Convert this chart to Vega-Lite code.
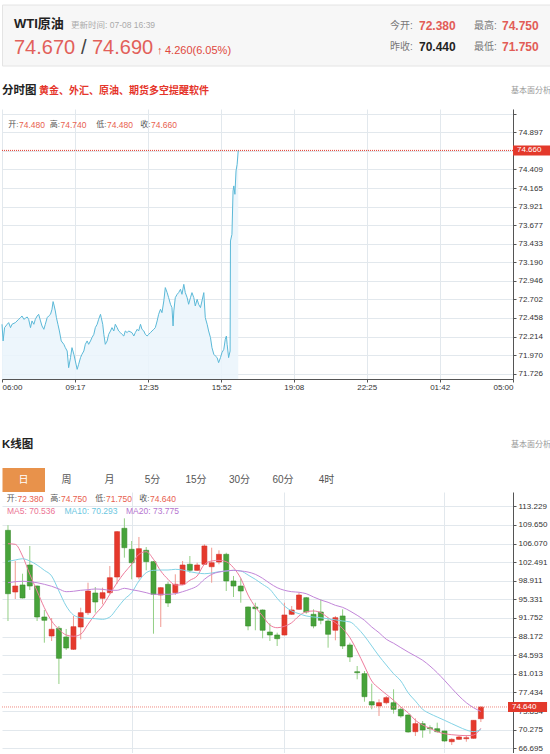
{
  "$schema": "https://vega.github.io/schema/vega-lite/v6.json",
  "padding": 0,
  "spacing": 0,
  "bounds": "flush",
  "background": "white",
  "config": {
    "view": {"stroke": null},
    "font": "Liberation Sans, Noto Sans CJK SC",
    "axis": {"labelFontSize": 8, "labelColor": "#333", "domainColor": "#555", "tickColor": "#555", "gridColor": "#e2e8ed", "tickSize": 3, "labelPadding": 2, "labelOverlap": false}
  },
  "vconcat": [
    {
      "width": 550,
      "height": 108,
      "data": {"values": [{}]},
      "layer": [
        {"mark": {"type": "rect", "x": 0.5, "x2": 560, "y": 4, "y2": 65, "fill": "#f7f7f7", "stroke": "#e4e4e4", "strokeWidth": 1}, "encoding": {}},
        {"mark": {"type": "text", "text": "WTI原油", "x": 12, "y": 23, "align": "left", "baseline": "middle", "fontSize": 13, "fontWeight": "bold", "color": "#222"}, "encoding": {}},
        {"mark": {"type": "text", "text": "更新时间: 07-08 16:39", "x": 69, "y": 24, "align": "left", "baseline": "middle", "fontSize": 8.5, "color": "#aaa"}, "encoding": {}},
        {"mark": {"type": "text", "text": "74.670", "x": 12, "y": 46.5, "align": "left", "baseline": "middle", "fontSize": 20, "color": "#e2605a"}, "encoding": {}},
        {"mark": {"type": "text", "text": "/", "x": 79, "y": 46.5, "align": "left", "baseline": "middle", "fontSize": 20, "color": "#444"}, "encoding": {}},
        {"mark": {"type": "text", "text": "74.690", "x": 90, "y": 46.5, "align": "left", "baseline": "middle", "fontSize": 20, "color": "#e2605a"}, "encoding": {}},
        {"mark": {"type": "text", "text": "↑", "x": 155, "y": 50, "align": "left", "baseline": "middle", "fontSize": 11, "fontWeight": "bold", "color": "#e0483d"}, "encoding": {}},
        {"mark": {"type": "text", "text": "4.260(6.05%)", "x": 163, "y": 50, "align": "left", "baseline": "middle", "fontSize": 11, "color": "#e0483d"}, "encoding": {}},
        {"mark": {"type": "text", "text": "今开:", "x": 388, "y": 25, "align": "left", "baseline": "middle", "fontSize": 10, "color": "#777"}, "encoding": {}},
        {"mark": {"type": "text", "text": "72.380", "x": 417, "y": 25, "align": "left", "baseline": "middle", "fontSize": 12, "fontWeight": "bold", "color": "#e25c56"}, "encoding": {}},
        {"mark": {"type": "text", "text": "最高:", "x": 472, "y": 25, "align": "left", "baseline": "middle", "fontSize": 10, "color": "#777"}, "encoding": {}},
        {"mark": {"type": "text", "text": "74.750", "x": 500, "y": 25, "align": "left", "baseline": "middle", "fontSize": 12, "fontWeight": "bold", "color": "#e25c56"}, "encoding": {}},
        {"mark": {"type": "text", "text": "昨收:", "x": 388, "y": 46, "align": "left", "baseline": "middle", "fontSize": 10, "color": "#777"}, "encoding": {}},
        {"mark": {"type": "text", "text": "70.440", "x": 417, "y": 46, "align": "left", "baseline": "middle", "fontSize": 12, "fontWeight": "bold", "color": "#222"}, "encoding": {}},
        {"mark": {"type": "text", "text": "最低:", "x": 472, "y": 46, "align": "left", "baseline": "middle", "fontSize": 10, "color": "#777"}, "encoding": {}},
        {"mark": {"type": "text", "text": "71.750", "x": 500, "y": 46, "align": "left", "baseline": "middle", "fontSize": 12, "fontWeight": "bold", "color": "#e25c56"}, "encoding": {}},
        {"mark": {"type": "text", "text": "分时图", "x": 0, "y": 89.5, "align": "left", "baseline": "middle", "fontSize": 11.5, "fontWeight": "bold", "color": "#222"}, "encoding": {}},
        {"mark": {"type": "text", "text": "黄金、外汇、原油、期货多空提醒软件", "x": 37, "y": 89.5, "align": "left", "baseline": "middle", "fontSize": 10, "fontWeight": "bold", "color": "#e5352b"}, "encoding": {}},
        {"mark": {"type": "text", "text": "基本面分析", "x": 509, "y": 90, "align": "left", "baseline": "middle", "fontSize": 8, "color": "#999"}, "encoding": {}},
        {"mark": {"type": "rule", "x": 0.5, "x2": 560, "y": 103.5, "y2": 103.5, "color": "#dddddd"}, "encoding": {}}
      ]
    },
    {
      "width": 511,
      "height": 270,
      "data": {"values": [
        {"t":0,"v":72.375},{"t":3,"v":72.156},{"t":7,"v":72.331},{"t":14,"v":72.375},{"t":18,"v":72.397},{"t":23,"v":72.331},{"t":27,"v":72.375},{"t":36,"v":72.397},{"t":45,"v":72.44},{"t":50,"v":72.462},{"t":54,"v":72.484},{"t":59,"v":72.44},{"t":63,"v":72.454},{"t":68,"v":72.471},{"t":72,"v":72.44},{"t":77,"v":72.331},{"t":81,"v":72.419},{"t":86,"v":72.375},{"t":90,"v":72.44},{"t":95,"v":72.484},{"t":99,"v":72.506},{"t":104,"v":72.419},{"t":108,"v":72.353},{"t":113,"v":72.309},{"t":117,"v":72.375},{"t":122,"v":72.462},{"t":126,"v":72.484},{"t":131,"v":72.506},{"t":135,"v":72.572},{"t":138,"v":72.673},{"t":141,"v":72.616},{"t":144,"v":72.55},{"t":147,"v":72.462},{"t":151,"v":72.375},{"t":155,"v":72.287},{"t":160,"v":72.156},{"t":167,"v":72.112},{"t":171,"v":72.068},{"t":176,"v":72.024},{"t":180,"v":71.805},{"t":185,"v":71.937},{"t":189,"v":72.068},{"t":194,"v":71.981},{"t":198,"v":71.893},{"t":203,"v":71.783},{"t":207,"v":71.849},{"t":212,"v":71.937},{"t":216,"v":71.981},{"t":221,"v":72.024},{"t":225,"v":72.112},{"t":230,"v":72.156},{"t":234,"v":72.112},{"t":239,"v":72.156},{"t":243,"v":72.2},{"t":248,"v":72.243},{"t":252,"v":72.331},{"t":257,"v":72.375},{"t":261,"v":72.44},{"t":266,"v":72.506},{"t":268,"v":72.462},{"t":272,"v":72.375},{"t":275,"v":72.243},{"t":279,"v":72.112},{"t":284,"v":72.156},{"t":288,"v":72.243},{"t":293,"v":72.287},{"t":297,"v":72.331},{"t":302,"v":72.287},{"t":306,"v":72.375},{"t":311,"v":72.331},{"t":315,"v":72.287},{"t":320,"v":72.265},{"t":324,"v":72.243},{"t":329,"v":72.221},{"t":333,"v":72.287},{"t":338,"v":72.265},{"t":342,"v":72.287},{"t":351,"v":72.265},{"t":356,"v":72.221},{"t":360,"v":72.265},{"t":365,"v":72.309},{"t":369,"v":72.287},{"t":374,"v":72.375},{"t":378,"v":72.309},{"t":383,"v":72.287},{"t":387,"v":72.243},{"t":392,"v":72.221},{"t":396,"v":72.243},{"t":401,"v":72.265},{"t":405,"v":72.287},{"t":410,"v":72.309},{"t":414,"v":72.331},{"t":419,"v":72.419},{"t":423,"v":72.506},{"t":428,"v":72.572},{"t":432,"v":72.528},{"t":437,"v":72.681},{"t":441,"v":72.857},{"t":446,"v":72.791},{"t":450,"v":72.725},{"t":455,"v":72.638},{"t":459,"v":72.594},{"t":462,"v":72.353},{"t":464,"v":72.55},{"t":468,"v":72.725},{"t":473,"v":72.769},{"t":477,"v":72.791},{"t":482,"v":72.835},{"t":486,"v":72.769},{"t":491,"v":72.9},{"t":495,"v":72.791},{"t":500,"v":72.725},{"t":504,"v":72.638},{"t":509,"v":72.725},{"t":513,"v":72.791},{"t":518,"v":72.725},{"t":522,"v":72.616},{"t":527,"v":72.703},{"t":531,"v":72.638},{"t":536,"v":72.594},{"t":540,"v":72.681},{"t":545,"v":72.791},{"t":549,"v":72.462},{"t":554,"v":72.375},{"t":558,"v":72.287},{"t":563,"v":72.2},{"t":567,"v":72.068},{"t":572,"v":71.981},{"t":576,"v":71.959},{"t":581,"v":71.937},{"t":585,"v":71.871},{"t":590,"v":71.937},{"t":594,"v":72.002},{"t":599,"v":72.046},{"t":603,"v":72.178},{"t":606,"v":72.221},{"t":608,"v":72.112},{"t":612,"v":71.937},{"t":616,"v":72.024},{"t":617,"v":73.47},{"t":621,"v":73.557},{"t":624,"v":74.127},{"t":626,"v":74.193},{"t":629,"v":74.083},{"t":632,"v":74.39},{"t":635,"v":74.477},{"t":638,"v":74.66}
      ]},
      "layer": [
        {
          "mark": {"type": "area", "color": "#eaf5fb", "opacity": 0.85},
          "encoding": {
            "x": {"field": "t", "type": "quantitative", "scale": {"domain": [0, 1380], "nice": false, "zero": false},
                  "axis": {"values": [0, 197, 395, 592, 788, 985, 1182, 1380], "tickCount": 50, "labelExpr": "timeFormat(datetime(2025,6,8,6,datum.value),'%H:%M')", "labelFlush": true, "grid": true, "title": null, "labelPadding": 1}},
            "y": {"field": "v", "type": "quantitative", "scale": {"domain": [71.656, 75.204], "nice": false, "zero": false},
                  "axis": {"orient": "right", "values": [71.726, 71.97, 72.214, 72.458, 72.702, 72.946, 73.19, 73.433, 73.677, 73.921, 74.165, 74.409, 74.653, 74.897, 75.141], "tickCount": 50, "labelExpr": "datum.value > 75 || abs(datum.value - 74.653) < 0.001 ? '' : format(datum.value, '.3f')", "grid": true, "title": null}},
            "y2": {"datum": 71.656}
          }
        },
        {
          "mark": {"type": "line", "color": "#5bb9d8", "strokeWidth": 1},
          "encoding": {"x": {"field": "t", "type": "quantitative"}, "y": {"field": "v", "type": "quantitative"}}
        },
        {"data": {"values": [{}]}, "mark": {"type": "rule", "color": "#e0392b", "strokeDash": [1, 1], "strokeWidth": 1}, "encoding": {"y": {"datum": 74.66}}},
        {"data": {"values": [{}]}, "mark": {"type": "rule", "color": "#e3392b", "strokeWidth": 10}, "encoding": {"x": {"datum": 1380}, "x2": {"datum": 1484}, "y": {"datum": 74.66}}},
        {"data": {"values": [{}]}, "mark": {"type": "text", "text": "74.660", "align": "left", "dx": 4, "baseline": "middle", "fontSize": 8, "color": "white"}, "encoding": {"x": {"datum": 1380}, "y": {"datum": 74.66}}},
        {"data": {"values": [{}]}, "mark": {"type": "text", "text": "开:", "x": 16.5, "y": 15.5, "align": "right", "baseline": "middle", "fontSize": 8, "color": "#555"}, "encoding": {}},
        {"data": {"values": [{}]}, "mark": {"type": "text", "text": "74.480", "x": 17, "y": 15.5, "align": "left", "baseline": "middle", "fontSize": 8.5, "color": "#e8604f"}, "encoding": {}},
        {"data": {"values": [{}]}, "mark": {"type": "text", "text": "高:", "x": 58, "y": 15.5, "align": "right", "baseline": "middle", "fontSize": 8, "color": "#555"}, "encoding": {}},
        {"data": {"values": [{}]}, "mark": {"type": "text", "text": "74.740", "x": 58.5, "y": 15.5, "align": "left", "baseline": "middle", "fontSize": 8.5, "color": "#e8604f"}, "encoding": {}},
        {"data": {"values": [{}]}, "mark": {"type": "text", "text": "低:", "x": 104.5, "y": 15.5, "align": "right", "baseline": "middle", "fontSize": 8, "color": "#555"}, "encoding": {}},
        {"data": {"values": [{}]}, "mark": {"type": "text", "text": "74.480", "x": 105, "y": 15.5, "align": "left", "baseline": "middle", "fontSize": 8.5, "color": "#e8604f"}, "encoding": {}},
        {"data": {"values": [{}]}, "mark": {"type": "text", "text": "收:", "x": 148.5, "y": 15.5, "align": "right", "baseline": "middle", "fontSize": 8, "color": "#555"}, "encoding": {}},
        {"data": {"values": [{}]}, "mark": {"type": "text", "text": "74.660", "x": 149, "y": 15.5, "align": "left", "baseline": "middle", "fontSize": 8.5, "color": "#e8604f"}, "encoding": {}}
      ]
    },
    {
      "width": 550,
      "height": 113,
      "data": {"values": [{}]},
      "layer": [
        {"mark": {"type": "text", "text": "K线图", "x": 0, "y": 66, "align": "left", "baseline": "middle", "fontSize": 11.5, "fontWeight": "bold", "color": "#222"}, "encoding": {}},
        {"mark": {"type": "text", "text": "基本面分析", "x": 509, "y": 65.5, "align": "left", "baseline": "middle", "fontSize": 8, "color": "#999"}, "encoding": {}},
        {"mark": {"type": "rule", "x": 0.5, "x2": 560, "y": 79.5, "y2": 79.5, "color": "#dddddd"}, "encoding": {}},
        {"mark": {"type": "rect", "x": 0.5, "x2": 43, "y": 89, "y2": 113, "fill": "#e8924b"}, "encoding": {}},
        {"mark": {"type": "rule", "x": 0.5, "x2": 346, "y": 89, "y2": 89, "color": "#dddddd"}, "encoding": {}},
        {"mark": {"type": "rule", "x": 0.5, "x2": 346, "y": 112.5, "y2": 112.5, "color": "#dddddd"}, "encoding": {}},
        {"mark": {"type": "rule", "x": 43, "x2": 43, "y": 89, "y2": 113, "color": "#dddddd"}, "encoding": {}},
        {"mark": {"type": "rule", "x": 86, "x2": 86, "y": 89, "y2": 113, "color": "#dddddd"}, "encoding": {}},
        {"mark": {"type": "rule", "x": 129, "x2": 129, "y": 89, "y2": 113, "color": "#dddddd"}, "encoding": {}},
        {"mark": {"type": "rule", "x": 172, "x2": 172, "y": 89, "y2": 113, "color": "#dddddd"}, "encoding": {}},
        {"mark": {"type": "rule", "x": 216, "x2": 216, "y": 89, "y2": 113, "color": "#dddddd"}, "encoding": {}},
        {"mark": {"type": "rule", "x": 259, "x2": 259, "y": 89, "y2": 113, "color": "#dddddd"}, "encoding": {}},
        {"mark": {"type": "rule", "x": 303, "x2": 303, "y": 89, "y2": 113, "color": "#dddddd"}, "encoding": {}},
        {"mark": {"type": "rule", "x": 346, "x2": 346, "y": 89, "y2": 113, "color": "#dddddd"}, "encoding": {}},
        {"mark": {"type": "text", "text": "日", "x": 21.5, "y": 101, "align": "center", "baseline": "middle", "fontSize": 10, "color": "white"}, "encoding": {}},
        {"mark": {"type": "text", "text": "周", "x": 64.5, "y": 101, "align": "center", "baseline": "middle", "fontSize": 10, "color": "#555"}, "encoding": {}},
        {"mark": {"type": "text", "text": "月", "x": 107.5, "y": 101, "align": "center", "baseline": "middle", "fontSize": 10, "color": "#555"}, "encoding": {}},
        {"mark": {"type": "text", "text": "5分", "x": 150.5, "y": 101, "align": "center", "baseline": "middle", "fontSize": 10, "color": "#555"}, "encoding": {}},
        {"mark": {"type": "text", "text": "15分", "x": 194, "y": 101, "align": "center", "baseline": "middle", "fontSize": 10, "color": "#555"}, "encoding": {}},
        {"mark": {"type": "text", "text": "30分", "x": 237.5, "y": 101, "align": "center", "baseline": "middle", "fontSize": 10, "color": "#555"}, "encoding": {}},
        {"mark": {"type": "text", "text": "60分", "x": 281, "y": 101, "align": "center", "baseline": "middle", "fontSize": 10, "color": "#555"}, "encoding": {}},
        {"mark": {"type": "text", "text": "4时", "x": 324.5, "y": 101, "align": "center", "baseline": "middle", "fontSize": 10, "color": "#555"}, "encoding": {}}
      ]
    },
    {
      "width": 511,
      "height": 261,
      "data": {"values": [
        {"i":1,"o":108.61,"h":109.6,"l":91.17,"c":96.42,"ma5":106.04,"ma10":102.65,"ma20":98.54},
        {"i":2,"o":96.75,"h":102.71,"l":95.4,"c":97.9,"ma5":105.92,"ma10":102.9,"ma20":98.73},
        {"i":3,"o":98.1,"h":100.27,"l":95.5,"c":95.6,"ma5":103.67,"ma10":103.15,"ma20":98.81},
        {"i":4,"o":101.94,"h":105.6,"l":97.13,"c":97.9,"ma5":100.15,"ma10":102.71,"ma20":98.73},
        {"i":5,"o":97.9,"h":98.0,"l":91.17,"c":91.94,"ma5":96.94,"ma10":101.94,"ma20":98.54},
        {"i":6,"o":91.94,"h":93.29,"l":87.0,"c":91.31,"ma5":93.73,"ma10":100.92,"ma20":98.23},
        {"i":7,"o":88.29,"h":91.75,"l":87.33,"c":89.58,"ma5":91.17,"ma10":99.83,"ma20":97.85},
        {"i":8,"o":89.77,"h":90.21,"l":79.06,"c":84.0,"ma5":89.58,"ma10":96.94,"ma20":97.33},
        {"i":9,"o":88.1,"h":89.64,"l":85.6,"c":85.98,"ma5":88.48,"ma10":94.06,"ma20":96.81},
        {"i":10,"o":85.73,"h":92.14,"l":85.6,"c":90.08,"ma5":88.23,"ma10":92.33,"ma20":96.89},
        {"i":11,"o":90.02,"h":93.73,"l":87.65,"c":92.77,"ma5":88.62,"ma10":91.81,"ma20":97.08},
        {"i":12,"o":92.77,"h":98.54,"l":92.33,"c":96.94,"ma5":90.54,"ma10":91.69,"ma20":97.19},
        {"i":13,"o":96.56,"h":97.71,"l":92.77,"c":94.83,"ma5":92.46,"ma10":91.62,"ma20":97.33},
        {"i":14,"o":95.54,"h":97.58,"l":94.38,"c":96.62,"ma5":94.06,"ma10":91.5,"ma20":97.27},
        {"i":15,"o":96.62,"h":101.75,"l":96.31,"c":99.5,"ma5":96.31,"ma10":91.94,"ma20":97.08},
        {"i":16,"o":99.63,"h":108.48,"l":98.35,"c":108.35,"ma5":98.54,"ma10":93.62,"ma20":97.08},
        {"i":17,"o":109.0,"h":110.92,"l":103.35,"c":105.27,"ma5":100.46,"ma10":95.35,"ma20":97.46},
        {"i":18,"o":104.96,"h":106.56,"l":99.19,"c":102.38,"ma5":102.08,"ma10":96.62,"ma20":97.19},
        {"i":19,"o":99.63,"h":107.33,"l":99.19,"c":105.08,"ma5":104.0,"ma10":98.87,"ma20":96.94},
        {"i":20,"o":104.77,"h":105.4,"l":100.92,"c":102.58,"ma5":104.5,"ma10":100.46,"ma20":96.62},
        {"i":21,"o":102.58,"h":102.7,"l":88.73,"c":96.31,"ma5":103.04,"ma10":100.92,"ma20":96.31},
        {"i":22,"o":96.17,"h":97.71,"l":90.02,"c":97.58,"ma5":100.79,"ma10":100.98,"ma20":96.31},
        {"i":23,"o":98.23,"h":98.73,"l":93.87,"c":94.63,"ma5":99.19,"ma10":100.98,"ma20":96.31},
        {"i":24,"o":96.62,"h":100.15,"l":96.17,"c":98.23,"ma5":98.1,"ma10":101.11,"ma20":96.42},
        {"i":25,"o":98.23,"h":102.71,"l":98.1,"c":101.94,"ma5":98.1,"ma10":100.98,"ma20":96.81},
        {"i":26,"o":102.08,"h":103.67,"l":100.46,"c":100.92,"ma5":99.0,"ma10":100.65,"ma20":97.27},
        {"i":27,"o":100.92,"h":102.38,"l":100.79,"c":101.94,"ma5":99.83,"ma10":100.4,"ma20":97.9},
        {"i":28,"o":102.08,"h":105.92,"l":101.94,"c":105.6,"ma5":102.08,"ma10":100.27,"ma20":99.19},
        {"i":29,"o":101.61,"h":105.27,"l":98.54,"c":102.38,"ma5":102.71,"ma10":100.4,"ma20":100.15},
        {"i":30,"o":102.52,"h":104.77,"l":102.08,"c":104.0,"ma5":102.84,"ma10":100.65,"ma20":100.59},
        {"i":31,"o":104.0,"h":104.3,"l":96.94,"c":98.87,"ma5":102.58,"ma10":100.79,"ma20":100.79},
        {"i":32,"o":98.87,"h":99.83,"l":95.79,"c":97.9,"ma5":101.42,"ma10":100.92,"ma20":100.92},
        {"i":33,"o":97.9,"h":99.38,"l":94.69,"c":96.94,"ma5":99.38,"ma10":100.79,"ma20":100.79},
        {"i":34,"o":93.87,"h":93.95,"l":89.39,"c":90.21,"ma5":96.17,"ma10":100.02,"ma20":100.59},
        {"i":35,"o":93.87,"h":94.69,"l":89.39,"c":93.54,"ma5":93.87,"ma10":99.19,"ma20":100.15},
        {"i":36,"o":93.29,"h":93.4,"l":87.85,"c":89.39,"ma5":92.14,"ma10":98.23,"ma20":99.38},
        {"i":37,"o":89.06,"h":90.73,"l":87.33,"c":88.48,"ma5":90.4,"ma10":97.27,"ma20":98.42},
        {"i":38,"o":88.48,"h":88.93,"l":86.37,"c":87.77,"ma5":89.88,"ma10":95.54,"ma20":97.58},
        {"i":39,"o":88.48,"h":94.69,"l":88.4,"c":92.33,"ma5":90.15,"ma10":94.06,"ma20":97.08},
        {"i":40,"o":92.46,"h":94.06,"l":92.35,"c":93.29,"ma5":90.85,"ma10":93.1,"ma20":96.81},
        {"i":41,"o":93.42,"h":96.62,"l":93.35,"c":96.17,"ma5":92.14,"ma10":92.58,"ma20":96.7},
        {"i":42,"o":95.65,"h":95.79,"l":92.58,"c":92.9,"ma5":92.96,"ma10":92.14,"ma20":96.42},
        {"i":43,"o":92.46,"h":93.42,"l":89.77,"c":90.21,"ma5":93.1,"ma10":91.94,"ma20":95.79},
        {"i":44,"o":92.9,"h":95.35,"l":90.54,"c":91.31,"ma5":92.77,"ma10":91.8,"ma20":95.21},
        {"i":45,"o":91.17,"h":91.69,"l":86.04,"c":88.62,"ma5":91.81,"ma10":91.6,"ma20":94.77},
        {"i":46,"o":89.39,"h":92.14,"l":87.46,"c":91.81,"ma5":90.85,"ma10":91.4,"ma20":94.19},
        {"i":47,"o":92.14,"h":93.42,"l":85.79,"c":86.37,"ma5":89.7,"ma10":91.17,"ma20":93.8},
        {"i":48,"o":86.56,"h":87.0,"l":83.29,"c":84.25,"ma5":87.96,"ma10":91.0,"ma20":93.1},
        {"i":49,"o":81.42,"h":82.52,"l":79.96,"c":81.23,"ma5":85.4,"ma10":89.88,"ma20":92.27},
        {"i":50,"o":81.04,"h":81.56,"l":75.66,"c":76.62,"ma5":82.52,"ma10":88.29,"ma20":91.31},
        {"i":51,"o":75.66,"h":79.12,"l":74.19,"c":75.02,"ma5":79.64,"ma10":86.37,"ma20":90.02},
        {"i":52,"o":74.83,"h":76.12,"l":72.91,"c":75.46,"ma5":78.23,"ma10":84.44,"ma20":88.93},
        {"i":53,"o":75.46,"h":76.75,"l":75.15,"c":76.43,"ma5":77.08,"ma10":82.71,"ma20":87.66},
        {"i":54,"o":75.46,"h":78.04,"l":73.35,"c":74.19,"ma5":75.93,"ma10":81.04,"ma20":86.9},
        {"i":55,"o":74.19,"h":74.5,"l":72.58,"c":72.91,"ma5":74.63,"ma10":79.64,"ma20":86.05},
        {"i":56,"o":73.1,"h":73.2,"l":69.7,"c":69.83,"ma5":73.54,"ma10":77.39,"ma20":85.21},
        {"i":57,"o":69.89,"h":72.46,"l":69.06,"c":71.43,"ma5":72.08,"ma10":75.79,"ma20":84.44},
        {"i":58,"o":71.43,"h":71.94,"l":68.73,"c":70.21,"ma5":71.17,"ma10":74.19,"ma20":83.62},
        {"i":59,"o":70.65,"h":71.11,"l":69.5,"c":70.46,"ma5":70.54,"ma10":73.35,"ma20":82.52},
        {"i":60,"o":70.46,"h":71.62,"l":69.7,"c":69.89,"ma5":69.89,"ma10":72.71,"ma20":81.23},
        {"i":61,"o":70.02,"h":70.11,"l":67.96,"c":68.1,"ma5":69.5,"ma10":72.08,"ma20":79.77},
        {"i":62,"o":67.96,"h":68.62,"l":67.33,"c":68.42,"ma5":69.31,"ma10":71.43,"ma20":78.23},
        {"i":63,"o":68.42,"h":69.06,"l":68.3,"c":68.87,"ma5":69.19,"ma10":70.79,"ma20":76.75},
        {"i":64,"o":68.54,"h":69.25,"l":67.96,"c":68.73,"ma5":69.12,"ma10":70.21,"ma20":75.46},
        {"i":65,"o":68.62,"h":72.13,"l":68.55,"c":72.07,"ma5":69.25,"ma10":69.9,"ma20":74.5},
        {"i":66,"o":72.38,"h":74.75,"l":71.75,"c":74.64,"ma5":70.54,"ma10":70.29,"ma20":73.78}
      ]},
      "layer": [
        {
          "mark": {"type": "rule", "strokeWidth": 1},
          "encoding": {
            "x": {"field": "i", "type": "quantitative", "scale": {"domain": [0.865, 69.73], "nice": false, "zero": false},
                  "axis": {"values": [18, 39, 61], "tickCount": 50, "grid": true, "labels": false, "ticks": false, "domainColor": "#333", "title": null}},
            "y": {"field": "l", "type": "quantitative", "scale": {"domain": [65.79, 115.98], "nice": false, "zero": false},
                  "axis": {"orient": "right", "values": [66.695, 70.275, 73.854, 77.434, 81.013, 84.593, 88.172, 91.752, 95.331, 98.911, 102.491, 106.07, 109.65, 113.229], "tickCount": 50, "format": ".3f", "grid": true, "title": null}},
            "y2": {"field": "h"},
            "color": {"condition": {"test": "datum.c >= datum.o", "value": "#f09990"}, "value": "#93cf85"}
          }
        },
        {
          "mark": {"type": "bar", "orient": "vertical", "size": 5, "strokeWidth": 0.6},
          "encoding": {
            "x": {"field": "i", "type": "quantitative"},
            "y": {"field": "o", "type": "quantitative"},
            "y2": {"field": "c"},
            "color": {"condition": {"test": "datum.c >= datum.o", "value": "#e5392c"}, "value": "#47a33a"},
            "stroke": {"condition": {"test": "datum.c >= datum.o", "value": "#d4302a"}, "value": "#3a8b2e"}
          }
        },
        {"mark": {"type": "line", "color": "#ee7c9c", "strokeWidth": 1, "interpolate": "monotone"}, "encoding": {"x": {"field": "i", "type": "quantitative"}, "y": {"field": "ma5", "type": "quantitative"}}},
        {"mark": {"type": "line", "color": "#83d3e6", "strokeWidth": 1, "interpolate": "monotone"}, "encoding": {"x": {"field": "i", "type": "quantitative"}, "y": {"field": "ma10", "type": "quantitative"}}},
        {"mark": {"type": "line", "color": "#c286d9", "strokeWidth": 1, "interpolate": "monotone"}, "encoding": {"x": {"field": "i", "type": "quantitative"}, "y": {"field": "ma20", "type": "quantitative"}}},
        {"data": {"values": [{}]}, "mark": {"type": "rule", "color": "#f08a80", "strokeDash": [1, 1], "strokeWidth": 1}, "encoding": {"y": {"datum": 74.64}}},
        {"data": {"values": [{}]}, "mark": {"type": "rule", "color": "#e3392b", "strokeWidth": 10}, "encoding": {"x": {"datum": 69.73}, "x2": {"datum": 75.1}, "y": {"datum": 74.64}}},
        {"data": {"values": [{}]}, "mark": {"type": "text", "text": "74.640", "align": "left", "dx": 4, "baseline": "middle", "fontSize": 8, "color": "white"}, "encoding": {"x": {"datum": 69.73}, "y": {"datum": 74.64}}},
        {"data": {"values": [{}]}, "mark": {"type": "text", "text": "开:", "x": 15, "y": 7, "align": "right", "baseline": "middle", "fontSize": 8, "color": "#555"}, "encoding": {}},
        {"data": {"values": [{}]}, "mark": {"type": "text", "text": "72.380", "x": 15.5, "y": 7, "align": "left", "baseline": "middle", "fontSize": 8.5, "color": "#e8604f"}, "encoding": {}},
        {"data": {"values": [{}]}, "mark": {"type": "text", "text": "高:", "x": 58.5, "y": 7, "align": "right", "baseline": "middle", "fontSize": 8, "color": "#555"}, "encoding": {}},
        {"data": {"values": [{}]}, "mark": {"type": "text", "text": "74.750", "x": 59, "y": 7, "align": "left", "baseline": "middle", "fontSize": 8.5, "color": "#e8604f"}, "encoding": {}},
        {"data": {"values": [{}]}, "mark": {"type": "text", "text": "低:", "x": 103.5, "y": 7, "align": "right", "baseline": "middle", "fontSize": 8, "color": "#555"}, "encoding": {}},
        {"data": {"values": [{}]}, "mark": {"type": "text", "text": "71.750", "x": 104, "y": 7, "align": "left", "baseline": "middle", "fontSize": 8.5, "color": "#e8604f"}, "encoding": {}},
        {"data": {"values": [{}]}, "mark": {"type": "text", "text": "收:", "x": 147.5, "y": 7, "align": "right", "baseline": "middle", "fontSize": 8, "color": "#555"}, "encoding": {}},
        {"data": {"values": [{}]}, "mark": {"type": "text", "text": "74.640", "x": 148, "y": 7, "align": "left", "baseline": "middle", "fontSize": 8.5, "color": "#e8604f"}, "encoding": {}},
        {"data": {"values": [{}]}, "mark": {"type": "text", "text": "MA5: 70.536", "x": 5, "y": 18.7, "align": "left", "baseline": "middle", "fontSize": 8.5, "color": "#ec7394"}, "encoding": {}},
        {"data": {"values": [{}]}, "mark": {"type": "text", "text": "MA10: 70.293", "x": 62.5, "y": 18.7, "align": "left", "baseline": "middle", "fontSize": 8.5, "color": "#6cc7df"}, "encoding": {}},
        {"data": {"values": [{}]}, "mark": {"type": "text", "text": "MA20: 73.775", "x": 124, "y": 18.7, "align": "left", "baseline": "middle", "fontSize": 8.5, "color": "#b574d0"}, "encoding": {}}
      ]
    }
  ]
}
